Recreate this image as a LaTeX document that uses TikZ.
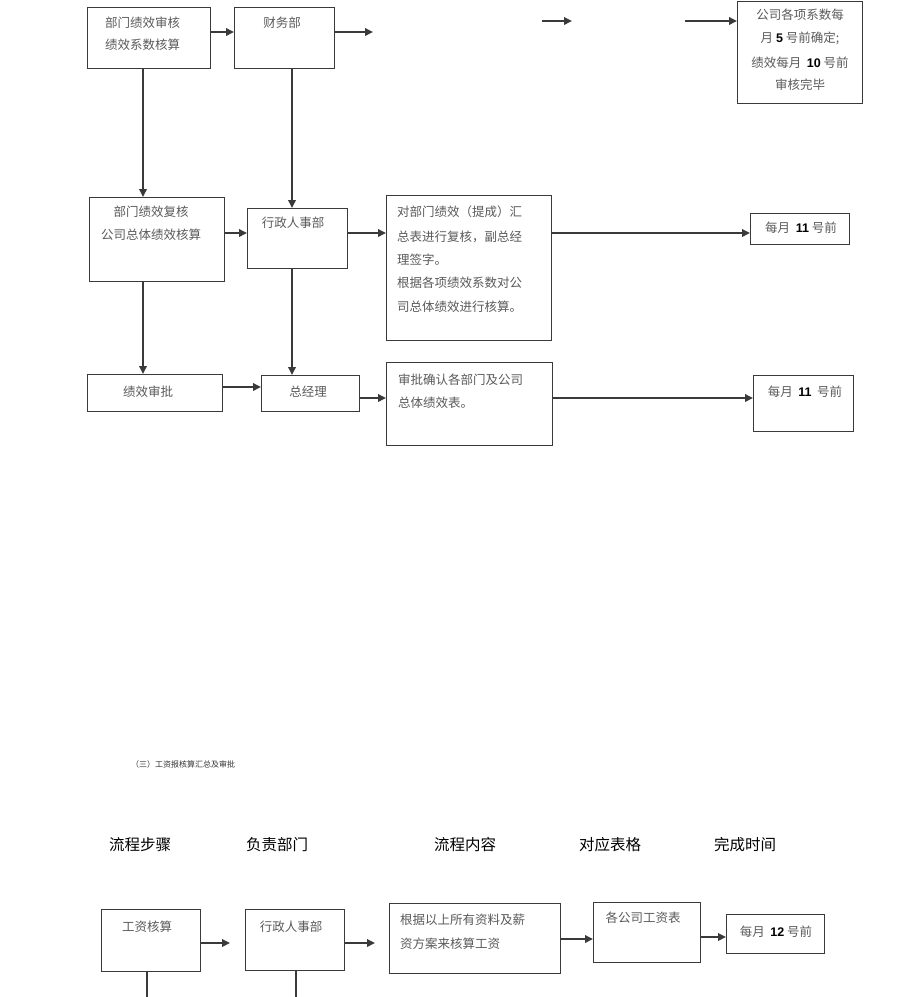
\documentclass[tikz,border=0pt]{standalone}
\usepackage{fontspec}
\usetikzlibrary{arrows.meta}
\newfontfamily\cjk{Noto Sans CJK SC}
\newfontfamily\numf{Liberation Sans}
\definecolor{boxc}{HTML}{3A3A3A}
\definecolor{txtc}{HTML}{5A5A5A}
\newcommand{\dg}[1]{\textcolor{black}{\numf\bfseries #1}}
\tikzset{
  box/.style={draw=boxc, line width=1.4pt, inner sep=0pt, anchor=north west},
  txt/.style={font=\cjk\fontsize{12.5}{15}\selectfont, text=txtc, inner sep=0pt},
  head/.style={font=\cjk\fontsize{15.5}{18}\selectfont, text=black, inner sep=0pt},
  arr/.style={draw=boxc, line width=1.8pt, -{Triangle[length=8pt,width=7.5pt]}},
  ln/.style={draw=boxc, line width=1.8pt}
}
\begin{document}
\begin{tikzpicture}[x=1pt,y=-1pt]
\useasboundingbox[fill=white] (0,0) rectangle (920,997);
% ---------- row 1 ----------
\node[box, minimum width=123pt, minimum height=61pt] (A) at (87,7) {};
\node[box, minimum width=100pt, minimum height=61pt] (B) at (234,7) {};
\node[box, minimum width=125pt, minimum height=102pt] (C) at (737,1) {};
\node[txt, anchor=west] (At1) at (105,23) {部门绩效审核};
\node[txt, anchor=west] (At2) at (105,45) {绩效系数核算};
\node[txt] (Bt) at (282,23) {财务部};
\node[txt] (Ct1) at (800,15) {公司各项系数每};
\node[txt] (Ct2) at (800,38) {月 \dg{5} 号前确定;};
\node[txt] (Ct3) at (800,63) {绩效每月\ \ \dg{10} 号前};
\node[txt] (Ct4) at (800,85) {审核完毕};
\coordinate (b1) at (373,32);
\coordinate (c0) at (542,21);
\coordinate (c1) at (572,21);
\coordinate (c2) at (685,21);
\draw[arr] (A.east |- 0,32) -- (B.west |- 0,32);
\draw[arr] (B.east |- 0,32) -- (b1);
\draw[arr] (c0) -- (c1);
\draw[arr] (c2) -- (C.west |- c2);
% ---------- row 2 ----------
\node[box, minimum width=135pt, minimum height=84pt] (D) at (89,197) {};
\node[box, minimum width=100pt, minimum height=60pt] (E) at (247,208) {};
\node[box, minimum width=165pt, minimum height=145pt] (F) at (386,195) {};
\node[box, minimum width=99pt, minimum height=31pt] (G) at (750,213) {};
\node[txt] (Dt1) at (151,212) {部门绩效复核};
\node[txt] (Dt2) at (151,235) {公司总体绩效核算};
\node[txt] (Et) at (293,223) {行政人事部};
\node[txt, anchor=west] (Ft1) at (397,212) {对部门绩效（提成）汇};
\node[txt, anchor=west] (Ft2) at (397,237) {总表进行复核，副总经};
\node[txt, anchor=west] (Ft3) at (397,260) {理签字。};
\node[txt, anchor=west] (Ft4) at (397,283) {根据各项绩效系数对公};
\node[txt, anchor=west] (Ft5) at (397,307) {司总体绩效进行核算。};
\node[txt] (Gt) at (801,228) {每月\ \ \dg{11} 号前};
\draw[arr] (A.south -| 143,0) -- (D.north -| 143,0);
\draw[arr] (B.south -| 292,0) -- (E.north -| 292,0);
\draw[arr] (D.east |- 0,233) -- (E.west |- 0,233);
\draw[arr] (E.east |- 0,233) -- (F.west |- 0,233);
\draw[arr] (F.east |- 0,233) -- (G.west |- 0,233);
% ---------- row 3 ----------
\node[box, minimum width=135pt, minimum height=37pt] (H) at (87,374) {};
\node[box, minimum width=98pt, minimum height=36pt] (I) at (261,375) {};
\node[box, minimum width=166pt, minimum height=83pt] (J) at (386,362) {};
\node[box, minimum width=100pt, minimum height=56pt] (K) at (753,375) {};
\node[txt] (Ht) at (148,392) {绩效审批};
\node[txt] (It) at (308,392) {总经理};
\node[txt, anchor=west] (Jt1) at (398,380) {审批确认各部门及公司};
\node[txt, anchor=west] (Jt2) at (398,403) {总体绩效表。};
\node[txt] (Kt) at (805,392) {每月\ \ \dg{11}\ \ 号前};
\draw[arr] (D.south -| 143,0) -- (H.north -| 143,0);
\draw[arr] (E.south -| 292,0) -- (I.north -| 292,0);
\draw[arr] (H.east |- 0,387) -- (I.west |- 0,387);
\draw[arr] (I.east |- 0,398) -- (J.west |- 0,398);
\draw[arr] (J.east |- 0,398) -- (K.west |- 0,398);
% ---------- section (三) ----------
\node[font=\cjk\fontsize{8}{9}\selectfont, text=black!80, inner sep=0pt, anchor=west] (T3) at (131,764) {（三）工资报核算汇总及审批};
\node[head] (H1) at (140,845) {流程步骤};
\node[head] (H2) at (277,845) {负责部门};
\node[head] (H3) at (465,845) {流程内容};
\node[head] (H4) at (610,845) {对应表格};
\node[head] (H5) at (745,845) {完成时间};
% ---------- bottom row ----------
\node[box, minimum width=99pt, minimum height=62pt] (L) at (101,909) {};
\node[box, minimum width=99pt, minimum height=61pt] (M) at (245,909) {};
\node[box, minimum width=171pt, minimum height=70pt] (N) at (389,903) {};
\node[box, minimum width=107pt, minimum height=60pt] (O) at (593,902) {};
\node[box, minimum width=98pt, minimum height=39pt] (P) at (726,914) {};
\node[txt] (Lt) at (147,927) {工资核算};
\node[txt] (Mt) at (291,927) {行政人事部};
\node[txt, anchor=west] (Nt1) at (400,920) {根据以上所有资料及薪};
\node[txt, anchor=west] (Nt2) at (400,944) {资方案来核算工资};
\node[txt] (Ot) at (643,918) {各公司工资表};
\node[txt] (Pt) at (776,932) {每月\ \ \dg{12} 号前};
\coordinate (m1) at (375,943);
\coordinate (Ld) at (147,997);
\coordinate (Md) at (296,997);
\draw[arr] (L.east |- 0,943) -- (230,943);
\draw[arr] (M.east |- 0,943) -- (m1);
\draw[arr] (N.east |- 0,939) -- (O.west |- 0,939);
\draw[arr] (O.east |- 0,937) -- (P.west |- 0,937);
\draw[ln] (L.south -| Ld) -- (Ld);
\draw[ln] (M.south -| Md) -- (Md);
\end{tikzpicture}
\end{document}
